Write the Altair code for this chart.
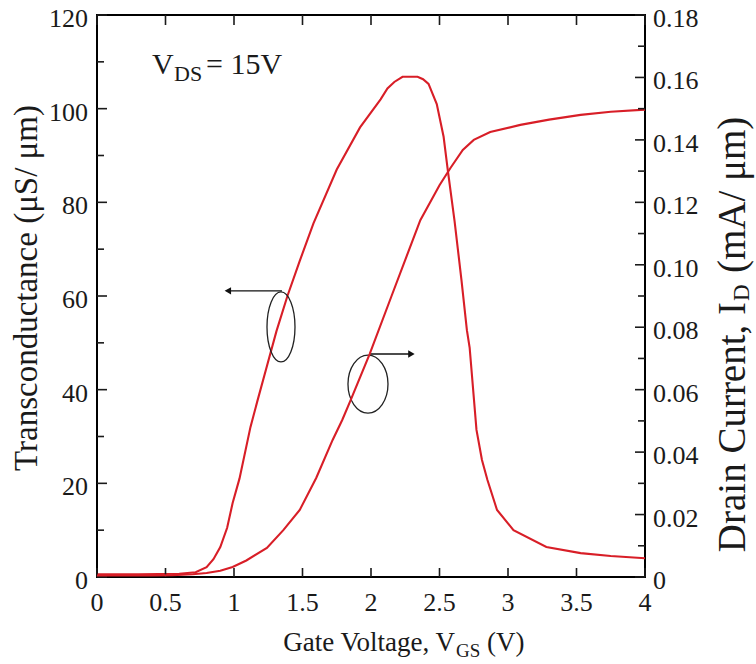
import altair as alt
import pandas as pd

# ---------------- data ----------------
vgs_gm = [0.0, 0.3, 0.6, 0.72, 0.8, 0.85, 0.9, 0.95, 0.99, 1.04, 1.12, 1.17, 1.24, 1.31,
          1.39, 1.48, 1.58, 1.75, 1.92, 2.07, 2.12, 2.17, 2.23, 2.34, 2.38, 2.42, 2.48,
          2.53, 2.56, 2.61, 2.66, 2.70, 2.72, 2.77, 2.81, 2.85, 2.92, 3.04, 3.28, 3.53,
          3.75, 4.0]
gm_vals = [0.6, 0.6, 0.7, 1.0, 2.1, 3.8, 6.4, 10.5, 15.8, 21.0, 32.0, 37.5, 45.0, 52.5,
           60.0, 67.5, 75.5, 87.0, 96.0, 102.0, 104.3, 105.7, 106.8, 106.8, 106.3, 105.3,
           101.0, 94.0, 87.0, 76.0, 63.5, 52.7, 49.0, 31.4, 25.0, 20.7, 14.3, 10.0, 6.4,
           5.1, 4.5, 4.0]

vgs_id = [0.0, 0.4, 0.55, 0.7, 0.8, 0.9, 0.99, 1.09, 1.24, 1.36, 1.48, 1.60, 1.72, 1.79,
          1.85, 1.99, 2.15, 2.36, 2.50, 2.58, 2.67, 2.75, 2.87, 3.09, 3.30, 3.53, 3.75, 4.0]
id_vals = [0.0005, 0.0005, 0.0006, 0.0009, 0.0013, 0.0020, 0.0032, 0.0053, 0.0093, 0.0150,
           0.0215, 0.0317, 0.0439, 0.0503, 0.0565, 0.0714, 0.0900, 0.1143, 0.1255, 0.1310,
           0.1368, 0.1400, 0.1425, 0.1448, 0.1465, 0.1480, 0.1490, 0.1497]

x_ticks = [0, 0.5, 1, 1.5, 2, 2.5, 3, 3.5, 4]
x_labels = ["0", "0.5", "1", "1.5", "2", "2.5", "3", "3.5", "4"]
gm_major = [0, 20, 40, 60, 80, 100, 120]
gm_labels = ["0", "20", "40", "60", "80", "100", "120"]
gm_minor = [10, 30, 50, 70, 90, 110]
id_major = [0, 0.02, 0.04, 0.06, 0.08, 0.10, 0.12, 0.14, 0.16, 0.18]
id_labels = ["0", "0.02", "0.04", "0.06", "0.08", "0.10", "0.12", "0.14", "0.16", "0.18"]
id_minor = [0.01, 0.03, 0.05, 0.07, 0.09, 0.11, 0.13, 0.15, 0.17]

# annotation anchors (data coordinates)
ellipse_left = {"v": [1.343], "g": [53.4]}
ellipse_right = {"v": [1.978], "g": [41.2]}
arrows = {"x1": [1.35, 1.99], "x2": [0.96, 2.28], "g": [61.1, 47.6]}
head_left = {"v": [0.955], "g": [61.1]}
head_right = {"v": [2.295], "g": [47.6]}

# ---------------- styling ----------------
W, H = 548, 562
FONT = "Liberation Serif"
RED = "#d81e27"
INK = "#1a1a1a"

xs = alt.Scale(domain=[0, 4], nice=False, zero=False)
gs = alt.Scale(domain=[0, 120], nice=False)
ids = alt.Scale(domain=[0, 0.18], nice=False)


def X(field):
    return alt.X(field, scale=xs, axis=None)


def GY(field):
    return alt.Y(field, scale=gs, axis=None)


def IY(field):
    return alt.Y(field, scale=ids, axis=None)


df_gm = pd.DataFrame({"v": vgs_gm, "g": gm_vals})
df_id = pd.DataFrame({"v": vgs_id, "i": id_vals})

gm_line = alt.Chart(df_gm).mark_line(color=RED, strokeWidth=2.1).encode(
    x=X("v:Q"), y=GY("g:Q"))
id_line = alt.Chart(df_id).mark_line(color=RED, strokeWidth=2.1).encode(
    x=X("v:Q"), y=IY("i:Q"))


# inward ticks
def vrule(vals, x0, x1, scale_fn):
    return alt.Chart(pd.DataFrame({"t": vals})).mark_rule(color=INK, strokeWidth=1.6).encode(
        y=scale_fn("t:Q"), x=alt.value(x0), x2=alt.value(x1))


def hrule(vals, y0, y1):
    return alt.Chart(pd.DataFrame({"t": vals})).mark_rule(color=INK, strokeWidth=1.6).encode(
        x=X("t:Q"), y=alt.value(y0), y2=alt.value(y1))


left_major = vrule(gm_major, 0, 10, GY)
left_minor = vrule(gm_minor, 0, 7, GY)
right_major = vrule(id_major, W, W - 10, IY)
right_minor = vrule(id_minor, W, W - 7, IY)
bottom_ticks = hrule(x_ticks, H, H - 9)
top_ticks = hrule(x_ticks, 0, 10)

# tick labels (drawn through the scales)
x_lab = alt.Chart(pd.DataFrame({"t": x_ticks, "s": x_labels})).mark_text(
    font=FONT, fontSize=26, color=INK, align="center", baseline="alphabetic").encode(
    x=X("t:Q"), y=alt.value(H + 34), text="s:N")
gm_lab = alt.Chart(pd.DataFrame({"t": gm_major, "s": gm_labels})).mark_text(
    font=FONT, fontSize=26, color=INK, align="right", baseline="middle", dy=4).encode(
    y=GY("t:Q"), x=alt.value(-9), text="s:N")
id_lab = alt.Chart(pd.DataFrame({"t": id_major, "s": id_labels})).mark_text(
    font=FONT, fontSize=26, color=INK, align="left", baseline="middle", dy=4).encode(
    y=IY("t:Q"), x=alt.value(W + 8), text="s:N")

# ellipses and arrows
ell1 = alt.Chart(pd.DataFrame(ellipse_left)).mark_point(
    shape="M0 -1 A0.4 1 0 1 1 0 1 A0.4 1 0 1 1 0 -1 Z", size=4900, filled=False,
    color="#222222", strokeWidth=1.3, opacity=1).encode(x=X("v:Q"), y=GY("g:Q"))
ell2 = alt.Chart(pd.DataFrame(ellipse_right)).mark_point(
    shape="M0 -1 A0.69 1 0 1 1 0 1 A0.69 1 0 1 1 0 -1 Z", size=3364, filled=False,
    color="#222222", strokeWidth=1.3, opacity=1).encode(x=X("v:Q"), y=GY("g:Q"))
arrow_lines = alt.Chart(pd.DataFrame(arrows)).mark_rule(color="#111111", strokeWidth=1.4).encode(
    x=X("x1:Q"), x2="x2:Q", y=GY("g:Q"))
arrow_l = alt.Chart(pd.DataFrame(head_left)).mark_point(
    shape="triangle-left", size=55, filled=True, color="#111111", opacity=1).encode(
    x=X("v:Q"), y=GY("g:Q"))
arrow_r = alt.Chart(pd.DataFrame(head_right)).mark_point(
    shape="triangle-right", size=55, filled=True, color="#111111", opacity=1).encode(
    x=X("v:Q"), y=GY("g:Q"))


# annotation text in data coordinates
def dtext(txt, v, g, size, align="left"):
    return alt.Chart(pd.DataFrame({"t": [txt], "v": [v], "g": [g]})).mark_text(
        font=FONT, fontSize=size, color=INK, align=align, baseline="alphabetic").encode(
        x=X("v:Q"), y=GY("g:Q"), text="t:N")


vds_v = dtext("V", 0.401, 107.4, 30)
vds_sub = dtext("DS", 0.562, 106.0, 22)
vds_rest = dtext("= 15V", 0.796, 107.4, 30)


# titles in pixel positions relative to the plot area
def ptext(txt, x, y, size, angle=0, align="left"):
    kw = dict(font=FONT, fontSize=size, color=INK, align=align, baseline="alphabetic")
    if angle:
        kw["angle"] = angle
    return alt.Chart(pd.DataFrame({"t": [txt]})).mark_text(**kw).encode(
        x=alt.value(x), y=alt.value(y), text="t:N")


xt1 = ptext("Gate Voltage, V", 358, 636, 27, align="right")
xt2 = ptext("GS", 359, 642, 19)
xt3 = ptext("(V)", 390, 636, 27)

lt = ptext("Transconductance (μS/ μm)", -60, 273, 33, angle=270, align="center")

rt1 = ptext("Drain Current, I", 648, 287, 39, angle=270, align="right")
rt2 = ptext("D", 652, 286, 23, angle=270)
rt3 = ptext("(mA/ μm)", 648, 258, 39, angle=270)

gm_group = alt.layer(
    gm_line, left_major, left_minor, bottom_ticks, top_ticks, x_lab, gm_lab,
    ell1, ell2, arrow_lines, arrow_l, arrow_r, vds_v, vds_sub, vds_rest,
    xt1, xt2, xt3, lt,
)
id_group = alt.layer(id_line, right_major, right_minor, id_lab, rt1, rt2, rt3)

chart = alt.layer(gm_group, id_group).resolve_scale(y="independent").properties(
    width=W, height=H,
    autosize=alt.AutoSizeParams(type="none"),
    padding={"left": 97, "top": 15, "right": 111, "bottom": 87},
).configure_view(
    stroke="black", strokeWidth=2
)

chart.save("out.html", embed_options={"renderer": "svg", "actions": False})
